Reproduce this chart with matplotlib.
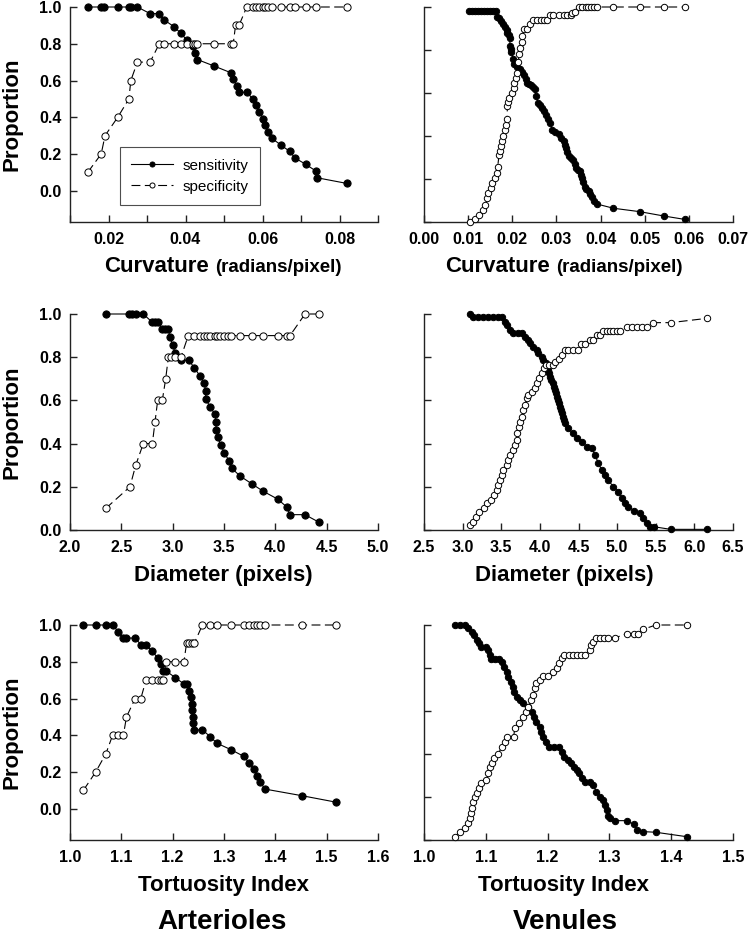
import matplotlib
matplotlib.use("Agg")
import matplotlib.pyplot as plt
from matplotlib.offsetbox import TextArea, HPacker, AnchoredOffsetbox

plt.rcParams['font.family'] = ['Liberation Sans', 'DejaVu Sans']

# ---------------- data ----------------
# Arterioles - curvature
art_curv_sens_x = [0.0146, 0.0181, 0.0189, 0.0224, 0.0253, 0.0258, 0.0275, 0.0308, 0.0332, 0.0345,
                   0.0370, 0.0388, 0.0403, 0.0419, 0.0425, 0.0431, 0.0474, 0.0517, 0.0524, 0.0533,
                   0.0539, 0.0559, 0.0575, 0.0582, 0.0592, 0.0602, 0.0606, 0.0615, 0.0624, 0.0647,
                   0.0671, 0.0684, 0.0713, 0.0739, 0.0741, 0.0819]
art_curv_sens = [1.0, 1.0, 1.0, 1.0, 1.0, 1.0, 1.0, 0.964, 0.964, 0.929,
                 0.893, 0.857, 0.821, 0.786, 0.750, 0.714, 0.679, 0.643, 0.607, 0.571,
                 0.536, 0.536, 0.500, 0.464, 0.429, 0.393, 0.357, 0.321, 0.286, 0.250,
                 0.214, 0.179, 0.143, 0.107, 0.071, 0.040]
art_curv_spec_x = [0.0146, 0.0181, 0.0191, 0.0224, 0.0253, 0.0258, 0.0275, 0.0308, 0.0332, 0.0345,
                   0.0370, 0.0388, 0.0403, 0.0419, 0.0425, 0.0431, 0.0474, 0.0517, 0.0524, 0.0530,
                   0.0539, 0.0559, 0.0575, 0.0582, 0.0592, 0.0602, 0.0606, 0.0615, 0.0624, 0.0647,
                   0.0671, 0.0684, 0.0713, 0.0739, 0.0819]
art_curv_spec = [0.1, 0.2, 0.3, 0.4, 0.5, 0.6, 0.7, 0.7, 0.8, 0.8,
                 0.8, 0.8, 0.8, 0.8, 0.8, 0.8, 0.8, 0.8, 0.8, 0.9,
                 0.9, 1.0, 1.0, 1.0, 1.0, 1.0, 1.0, 1.0, 1.0, 1.0,
                 1.0, 1.0, 1.0, 1.0, 1.0]

# Venules - curvature
ven_curv_sens_x = [0.0101, 0.0108, 0.0115, 0.0122, 0.0129, 0.0136, 0.0143, 0.0150, 0.0157, 0.0163,
                   0.0166, 0.0170, 0.0175, 0.0180, 0.0184, 0.0187, 0.0189, 0.0192, 0.0194, 0.0195,
                   0.0196, 0.0198, 0.0202, 0.0205, 0.0211, 0.0218, 0.0222, 0.0227, 0.0230, 0.0233,
                   0.0238, 0.0243, 0.0247, 0.0251, 0.0254, 0.0258, 0.0262, 0.0267, 0.0272, 0.0277,
                   0.0282, 0.0286, 0.0290, 0.0297, 0.0305, 0.0311, 0.0317, 0.0320, 0.0322, 0.0325,
                   0.0328, 0.0333, 0.0338, 0.0342, 0.0345, 0.0349, 0.0353, 0.0356, 0.0358, 0.0361,
                   0.0364, 0.0368, 0.0373, 0.0377, 0.0381, 0.0386, 0.0391, 0.0429, 0.0489, 0.0543,
                   0.0591]
ven_curv_sens = [0.983, 0.983, 0.983, 0.983, 0.983, 0.983, 0.983, 0.983, 0.983, 0.983,
                 0.955, 0.947, 0.935, 0.920, 0.905, 0.893, 0.880, 0.870, 0.858, 0.820,
                 0.805, 0.790, 0.757, 0.734, 0.720, 0.710, 0.696, 0.682, 0.665, 0.648,
                 0.642, 0.636, 0.628, 0.620, 0.585, 0.555, 0.543, 0.531, 0.515, 0.500,
                 0.480, 0.461, 0.430, 0.418, 0.407, 0.390, 0.375, 0.360, 0.344, 0.325,
                 0.305, 0.298, 0.290, 0.270, 0.251, 0.243, 0.235, 0.220, 0.204, 0.185,
                 0.165, 0.154, 0.142, 0.130, 0.118, 0.100, 0.084, 0.064, 0.048, 0.028,
                 0.012]
ven_curv_spec_x = [0.0105, 0.0116, 0.0125, 0.0133, 0.0139, 0.0142, 0.0146, 0.0152, 0.0155, 0.0160,
                   0.0165, 0.0167, 0.0170, 0.0172, 0.0174, 0.0177, 0.0180, 0.0183, 0.0186, 0.0188,
                   0.0189, 0.0191, 0.0193, 0.0199, 0.0203, 0.0205, 0.0208, 0.0211, 0.0213, 0.0216,
                   0.0218, 0.0222, 0.0223, 0.0226, 0.0233, 0.0239, 0.0248, 0.0256, 0.0264, 0.0271,
                   0.0279, 0.0286, 0.0292, 0.0305, 0.0317, 0.0324, 0.0332, 0.0336, 0.0343, 0.0352,
                   0.0358, 0.0366, 0.0372, 0.0379, 0.0385, 0.0391, 0.0429, 0.0489, 0.0543, 0.0591]
ven_curv_spec = [0.000, 0.012, 0.033, 0.056, 0.080, 0.110, 0.134, 0.157, 0.180, 0.204,
                 0.228, 0.258, 0.313, 0.330, 0.352, 0.375, 0.400, 0.430, 0.453, 0.480,
                 0.539, 0.560, 0.578, 0.601, 0.625, 0.648, 0.671, 0.695, 0.744, 0.780,
                 0.807, 0.838, 0.863, 0.900, 0.900, 0.920, 0.940, 0.940, 0.940, 0.940,
                 0.940, 0.963, 0.963, 0.963, 0.963, 0.963, 0.963, 0.970, 0.975, 1.000,
                 1.000, 1.000, 1.000, 1.000, 1.000, 1.000, 1.000, 1.000, 1.000, 1.000]

# Arterioles - diameter
art_diam_sens_x = [2.348, 2.578, 2.607, 2.643, 2.714, 2.796, 2.828, 2.860, 2.893, 2.925,
                   2.958, 2.974, 3.000, 3.023, 3.078, 3.159, 3.211, 3.266, 3.308, 3.321,
                   3.321, 3.364, 3.412, 3.422, 3.422, 3.438, 3.471, 3.503, 3.549, 3.575,
                   3.656, 3.770, 3.883, 4.023, 4.110, 4.143, 4.289, 4.425]
art_diam_sens = [1.0, 1.0, 1.0, 1.0, 1.0, 0.964, 0.964, 0.964, 0.929, 0.929,
                 0.929, 0.893, 0.857, 0.821, 0.786, 0.786, 0.750, 0.714, 0.679, 0.643,
                 0.607, 0.571, 0.536, 0.500, 0.464, 0.429, 0.393, 0.357, 0.321, 0.286,
                 0.250, 0.214, 0.179, 0.143, 0.107, 0.071, 0.071, 0.036]
art_diam_spec_x = [2.348, 2.584, 2.640, 2.714, 2.802, 2.828, 2.854, 2.899, 2.932, 2.958,
                   2.984, 3.023, 3.081, 3.152, 3.211, 3.266, 3.308, 3.331, 3.364, 3.412,
                   3.429, 3.461, 3.503, 3.536, 3.568, 3.656, 3.770, 3.883, 4.023, 4.110,
                   4.143, 4.289, 4.425]
art_diam_spec = [0.1, 0.2, 0.3, 0.4, 0.4, 0.5, 0.6, 0.6, 0.7, 0.8,
                 0.8, 0.8, 0.8, 0.9, 0.9, 0.9, 0.9, 0.9, 0.9, 0.9,
                 0.9, 0.9, 0.9, 0.9, 0.9, 0.9, 0.9, 0.9, 0.9, 0.9,
                 0.9, 1.0, 1.0]

# Venules - diameter
ven_diam_sens_x = [3.095, 3.138, 3.203, 3.268, 3.332, 3.397, 3.462, 3.506, 3.549, 3.571,
                   3.613, 3.656, 3.721, 3.765, 3.807, 3.850, 3.872, 3.907, 3.959, 3.980,
                   4.024, 4.044, 4.079, 4.109, 4.120, 4.131, 4.145, 4.166, 4.180, 4.196,
                   4.210, 4.226, 4.240, 4.251, 4.260, 4.273, 4.290, 4.303, 4.310, 4.325,
                   4.368, 4.425, 4.477, 4.541, 4.606, 4.671, 4.714, 4.757, 4.800, 4.843,
                   4.886, 4.951, 5.015, 5.059, 5.102, 5.145, 5.222, 5.296, 5.339, 5.383,
                   5.426, 5.477, 5.693, 6.167]
ven_diam_sens = [1.000, 0.987, 0.987, 0.987, 0.987, 0.987, 0.987, 0.987, 0.964, 0.949,
                 0.926, 0.910, 0.910, 0.910, 0.895, 0.880, 0.864, 0.849, 0.833, 0.818,
                 0.802, 0.787, 0.772, 0.741, 0.726, 0.710, 0.695, 0.679, 0.663, 0.648,
                 0.632, 0.617, 0.600, 0.586, 0.571, 0.556, 0.540, 0.525, 0.510, 0.494,
                 0.471, 0.448, 0.425, 0.409, 0.386, 0.378, 0.347, 0.309, 0.278, 0.255,
                 0.231, 0.200, 0.177, 0.147, 0.124, 0.108, 0.089, 0.077, 0.054, 0.031,
                 0.015, 0.015, 0.003, 0.003]
ven_diam_spec_x = [3.095, 3.130, 3.173, 3.216, 3.277, 3.320, 3.363, 3.406, 3.441, 3.462,
                   3.484, 3.506, 3.527, 3.571, 3.592, 3.613, 3.656, 3.678, 3.700, 3.708,
                   3.730, 3.743, 3.765, 3.786, 3.807, 3.829, 3.850, 3.894, 3.937, 3.967,
                   3.993, 4.024, 4.053, 4.079, 4.122, 4.166, 4.196, 4.251, 4.283, 4.325,
                   4.368, 4.433, 4.498, 4.528, 4.584, 4.649, 4.692, 4.735, 4.778, 4.821,
                   4.865, 4.908, 4.951, 4.994, 5.037, 5.124, 5.189, 5.253, 5.318, 5.383,
                   5.469, 5.693, 6.167]
ven_diam_spec = [0.023, 0.038, 0.062, 0.082, 0.100, 0.124, 0.139, 0.162, 0.185, 0.208,
                 0.231, 0.255, 0.278, 0.301, 0.324, 0.347, 0.370, 0.394, 0.417, 0.448,
                 0.478, 0.501, 0.525, 0.556, 0.579, 0.610, 0.625, 0.640, 0.656, 0.679,
                 0.702, 0.725, 0.748, 0.764, 0.764, 0.764, 0.779, 0.790, 0.810, 0.833,
                 0.833, 0.833, 0.833, 0.861, 0.861, 0.880, 0.880, 0.903, 0.903, 0.921,
                 0.921, 0.921, 0.921, 0.921, 0.921, 0.941, 0.941, 0.941, 0.941, 0.941,
                 0.960, 0.960, 0.980]

# Arterioles - tortuosity
art_tort_sens_x = [1.026, 1.050, 1.070, 1.083, 1.094, 1.104, 1.110, 1.127, 1.138, 1.148,
                   1.160, 1.171, 1.177, 1.182, 1.187, 1.205, 1.222, 1.227, 1.232, 1.235,
                   1.237, 1.238, 1.239, 1.239, 1.242, 1.258, 1.273, 1.286, 1.314, 1.338,
                   1.349, 1.358, 1.365, 1.371, 1.380, 1.452, 1.518]
art_tort_sens = [1.0, 1.0, 1.0, 1.0, 0.964, 0.929, 0.929, 0.929, 0.893, 0.893,
                 0.857, 0.821, 0.786, 0.750, 0.750, 0.714, 0.679, 0.679, 0.643, 0.607,
                 0.571, 0.536, 0.500, 0.464, 0.429, 0.429, 0.393, 0.357, 0.321, 0.286,
                 0.250, 0.214, 0.179, 0.143, 0.107, 0.071, 0.036]
art_tort_spec_x = [1.026, 1.050, 1.070, 1.083, 1.094, 1.104, 1.110, 1.127, 1.138, 1.148,
                   1.160, 1.171, 1.177, 1.182, 1.187, 1.205, 1.222, 1.227, 1.232, 1.237,
                   1.242, 1.258, 1.273, 1.286, 1.314, 1.338, 1.349, 1.358, 1.365, 1.371,
                   1.380, 1.452, 1.518]
art_tort_spec = [0.1, 0.2, 0.3, 0.4, 0.4, 0.4, 0.5, 0.6, 0.6, 0.7,
                 0.7, 0.7, 0.7, 0.7, 0.8, 0.8, 0.8, 0.9, 0.9, 0.9,
                 0.9, 1.0, 1.0, 1.0, 1.0, 1.0, 1.0, 1.0, 1.0, 1.0,
                 1.0, 1.0, 1.0]

# Venules - tortuosity
ven_tort_sens_x = [1.050, 1.058, 1.066, 1.072, 1.077, 1.081, 1.085, 1.089, 1.093, 1.100,
                   1.104, 1.107, 1.108, 1.115, 1.122, 1.126, 1.129, 1.134, 1.136, 1.140,
                   1.144, 1.146, 1.150, 1.155, 1.161, 1.169, 1.174, 1.178, 1.182, 1.187,
                   1.190, 1.193, 1.197, 1.203, 1.210, 1.219, 1.223, 1.227, 1.233, 1.238,
                   1.243, 1.247, 1.251, 1.255, 1.261, 1.269, 1.274, 1.279, 1.284, 1.289,
                   1.293, 1.296, 1.298, 1.301, 1.309, 1.328, 1.339, 1.345, 1.355, 1.375,
                   1.426]
ven_tort_sens = [1.000, 1.000, 1.000, 0.985, 0.969, 0.953, 0.930, 0.915, 0.900, 0.900,
                 0.884, 0.860, 0.841, 0.841, 0.841, 0.830, 0.806, 0.783, 0.760, 0.736,
                 0.713, 0.690, 0.667, 0.651, 0.636, 0.620, 0.597, 0.574, 0.550, 0.527,
                 0.504, 0.480, 0.457, 0.434, 0.434, 0.434, 0.411, 0.387, 0.372, 0.357,
                 0.341, 0.326, 0.310, 0.287, 0.271, 0.271, 0.256, 0.225, 0.202, 0.186,
                 0.163, 0.140, 0.112, 0.101, 0.090, 0.090, 0.074, 0.047, 0.039, 0.036,
                 0.015]
ven_tort_spec_x = [1.050, 1.059, 1.066, 1.072, 1.074, 1.076, 1.078, 1.080, 1.082, 1.085,
                   1.089, 1.093, 1.101, 1.104, 1.106, 1.110, 1.114, 1.120, 1.126, 1.131,
                   1.134, 1.145, 1.147, 1.153, 1.160, 1.165, 1.169, 1.173, 1.177, 1.180,
                   1.182, 1.187, 1.192, 1.200, 1.208, 1.215, 1.219, 1.224, 1.227, 1.234,
                   1.241, 1.247, 1.254, 1.261, 1.269, 1.271, 1.274, 1.279, 1.285, 1.291,
                   1.298, 1.309, 1.328, 1.339, 1.346, 1.355, 1.375, 1.426]
ven_tort_spec = [0.015, 0.036, 0.054, 0.078, 0.101, 0.124, 0.147, 0.178, 0.202, 0.220,
                 0.240, 0.263, 0.279, 0.310, 0.341, 0.357, 0.380, 0.400, 0.434, 0.457,
                 0.480, 0.480, 0.520, 0.543, 0.574, 0.597, 0.620, 0.651, 0.674, 0.705,
                 0.729, 0.744, 0.763, 0.763, 0.783, 0.801, 0.825, 0.845, 0.860, 0.860,
                 0.860, 0.860, 0.860, 0.860, 0.884, 0.907, 0.922, 0.940, 0.940, 0.940,
                 0.940, 0.940, 0.960, 0.960, 0.960, 0.980, 1.000, 1.000]

# labels / ticks
series_labels = ["sensitivity", "specificity"]
x_labels = ["Curvature", "Diameter (pixels)", "Tortuosity Index"]
curv_unit = "(radians/pixel)"
group_titles = ["Arterioles", "Venules"]
y_label = "Proportion"
y_ticks = [0.0, 0.2, 0.4, 0.6, 0.8, 1.0]
y_ticklabels = ["0.0", "0.2", "0.4", "0.6", "0.8", "1.0"]

xticks_art_curv = [0.01, 0.02, 0.03, 0.04, 0.05, 0.06, 0.07, 0.08, 0.09]
xticklabels_art_curv = ["", "0.02", "", "0.04", "", "0.06", "", "0.08", ""]
xticks_ven_curv = [0.00, 0.01, 0.02, 0.03, 0.04, 0.05, 0.06, 0.07]
xticklabels_ven_curv = ["0.00", "0.01", "0.02", "0.03", "0.04", "0.05", "0.06", "0.07"]
xticks_art_diam = [2.0, 2.5, 3.0, 3.5, 4.0, 4.5, 5.0]
xticklabels_art_diam = ["2.0", "2.5", "3.0", "3.5", "4.0", "4.5", "5.0"]
xticks_ven_diam = [2.5, 3.0, 3.5, 4.0, 4.5, 5.0, 5.5, 6.0, 6.5]
xticklabels_ven_diam = ["2.5", "3.0", "3.5", "4.0", "4.5", "5.0", "5.5", "6.0", "6.5"]
xticks_art_tort = [1.0, 1.1, 1.2, 1.3, 1.4, 1.5, 1.6]
xticklabels_art_tort = ["1.0", "1.1", "1.2", "1.3", "1.4", "1.5", "1.6"]
xticks_ven_tort = [1.0, 1.1, 1.2, 1.3, 1.4, 1.5]
xticklabels_ven_tort = ["1.0", "1.1", "1.2", "1.3", "1.4", "1.5"]

# ---------------- figure ----------------
W, H = 750, 936
fig = plt.figure(figsize=(W / 100, H / 100), dpi=100)
fig.patch.set_facecolor('white')

cols = [(70, 378), (424, 733)]
rows = [(7, 222), (314, 530), (625, 840)]


def rect(c, r):
    x0, x1 = cols[c]
    yt, yb = rows[r]
    return [x0 / W, 1 - yb / H, (x1 - x0) / W, (yb - yt) / H]


panels = [
    # (row, col, sx, sy, px, py, xlim, ylim, xticks, xticklabels, ms)
    (0, 0, art_curv_sens_x, art_curv_sens, art_curv_spec_x, art_curv_spec,
     (0.01, 0.09), (-0.17, 1.0), xticks_art_curv, xticklabels_art_curv, 5.2),
    (0, 1, ven_curv_sens_x, ven_curv_sens, ven_curv_spec_x, ven_curv_spec,
     (0.0, 0.07), (0.0, 1.0), xticks_ven_curv, xticklabels_ven_curv, 4.6),
    (1, 0, art_diam_sens_x, art_diam_sens, art_diam_spec_x, art_diam_spec,
     (2.0, 5.0), (0.0, 1.0), xticks_art_diam, xticklabels_art_diam, 5.2),
    (1, 1, ven_diam_sens_x, ven_diam_sens, ven_diam_spec_x, ven_diam_spec,
     (2.5, 6.5), (0.0, 1.0), xticks_ven_diam, xticklabels_ven_diam, 4.6),
    (2, 0, art_tort_sens_x, art_tort_sens, art_tort_spec_x, art_tort_spec,
     (1.0, 1.6), (-0.17, 1.0), xticks_art_tort, xticklabels_art_tort, 5.2),
    (2, 1, ven_tort_sens_x, ven_tort_sens, ven_tort_spec_x, ven_tort_spec,
     (1.0, 1.5), (0.0, 1.0), xticks_ven_tort, xticklabels_ven_tort, 4.6),
]

axes = {}
for (r, c, sx, sy, px, py, xl, yl, xt, xtl, ms) in panels:
    ax = fig.add_axes(rect(c, r))
    axes[(r, c)] = ax
    ax.plot(sx, sy, '-', color='black', lw=0.8, marker='o', ms=ms,
            mfc='black', mec='black', mew=0.7, clip_on=False, zorder=3,
            label=series_labels[0])
    ax.plot(px, py, color='black', lw=0.8, ls=(0, (8, 4)), marker='o', ms=ms,
            mfc='white', mec='black', mew=0.7, clip_on=False, zorder=4,
            label=series_labels[1])
    ax.set_xlim(*xl)
    ax.set_ylim(*yl)
    for s in ['top', 'right']:
        ax.spines[s].set_visible(False)
    for s in ['left', 'bottom']:
        ax.spines[s].set_linewidth(1.0)
        ax.spines[s].set_color('#222222')
    ax.tick_params(direction='in', length=5, width=1, color='#222222')
    ax.set_xticks(xt)
    ax.set_xticklabels(xtl, fontsize=11.5, fontweight='bold')
    ax.tick_params(axis='x', pad=7)
    if c == 0:
        ax.set_yticks(y_ticks)
        ax.set_yticklabels(y_ticklabels, fontsize=11.5, fontweight='bold')
        ax.tick_params(axis='y', pad=6)
        ax.set_ylabel(y_label, fontsize=16, fontweight='bold', va='center')
        ax.yaxis.set_label_coords(-0.188, 0.5)
    else:
        ax.set_yticks(y_ticks)
        ax.set_yticklabels([])
    ax.patch.set_alpha(0)

# legend
leg = axes[(0, 0)].legend(loc='lower left', bbox_to_anchor=(0.162, 0.079),
                          borderaxespad=0.0, fontsize=11, frameon=True, fancybox=False,
                          handlelength=2.7, handletextpad=0.65, markerscale=0.7,
                          borderpad=0.75, labelspacing=0.45)
leg.get_frame().set_edgecolor('#222222')
leg.get_frame().set_linewidth(0.8)

# x labels
label_cx = [223, 564]
label_cy = [267, 575, 885]


def fx(px):
    return px / W


def fy(py):
    return 1 - py / H


for c in range(2):
    ta1 = TextArea(x_labels[0], textprops=dict(fontsize=16, fontweight='bold'))
    ta2 = TextArea(curv_unit, textprops=dict(fontsize=13.5, fontweight='bold'))
    box = HPacker(children=[ta1, ta2], align="baseline", pad=0, sep=5)
    ab = AnchoredOffsetbox(loc='center', child=box, pad=0, borderpad=0, frameon=False,
                           bbox_to_anchor=(fx(label_cx[c]), fy(label_cy[0])),
                           bbox_transform=fig.transFigure)
    fig.add_artist(ab)
    for r in (1, 2):
        fig.text(fx(label_cx[c]), fy(label_cy[r]), x_labels[r], ha='center', va='center',
                 fontsize=16, fontweight='bold')
    fig.text(fx([222, 565][c]), fy(922), group_titles[c], ha='center', va='center',
             fontsize=20, fontweight='bold')

fig.savefig('out.png', dpi=100, facecolor='white')
